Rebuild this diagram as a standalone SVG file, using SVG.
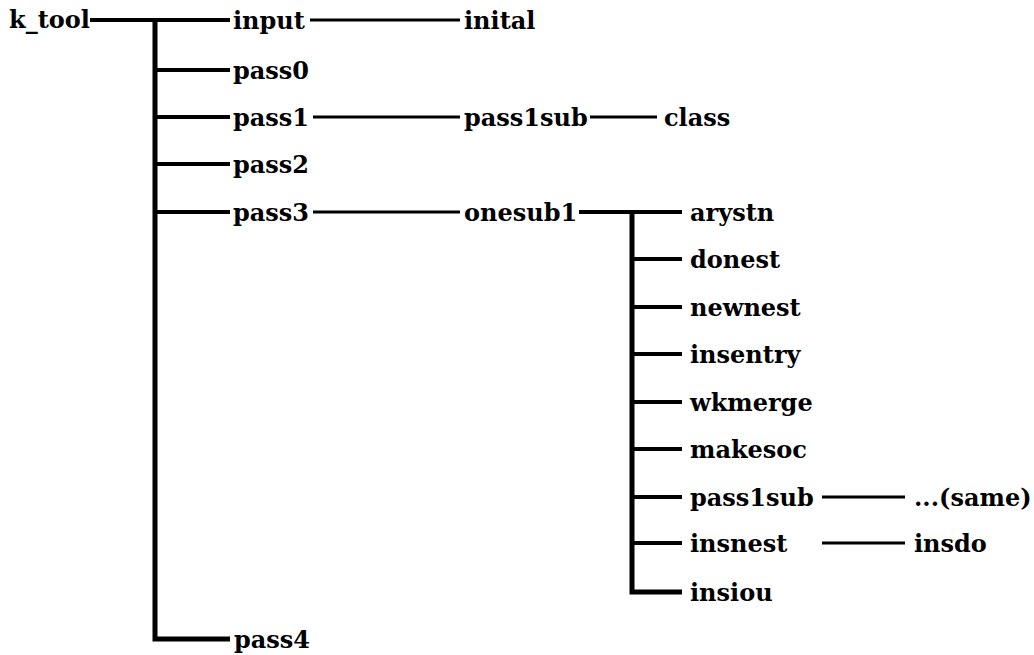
<svg xmlns="http://www.w3.org/2000/svg" width="1034" height="655" viewBox="0 0 1034 655">
<style>
text{font-family:"DejaVu Serif","Liberation Serif",serif;font-weight:bold;font-size:24px;fill:#000}
.trunk{stroke:#000;stroke-width:5;fill:none}
.br{stroke:#000;stroke-width:4;fill:none}
.ln{stroke:#000;stroke-width:3;fill:none}
</style>
<rect width="1034" height="655" fill="#fff"/>
<g id="connectors">
<path class="trunk" d="M155 20 V639 H230"/>
<path class="br" d="M90 20 H155"/>
<path class="br" d="M155 20 H230 M155 70 H230 M155 117 H230 M155 164 H230 M155 212 H230"/>
<path class="ln" d="M310 20 H460 M313 117 H460 M313 212 H460 M590 117 H657"/>
<path class="trunk" d="M632 212 V592 H682"/>
<path class="br" d="M579 212 H682 M632 259 H682 M632 307 H682 M632 354 H682 M632 402 H682 M632 449 H682 M632 497 H682 M632 543 H682"/>
<path class="ln" d="M822 497 H905 M822 543 H905"/>
</g>
<g id="k_tool"><text x="9" y="28">k_tool</text></g>
<g id="input"><text x="233" y="29">input</text></g>
<g id="inital"><text x="464" y="29">inital</text></g>
<g id="pass0"><text x="233" y="79">pass0</text></g>
<g id="pass1"><text x="233" y="126">pass1</text></g>
<g id="pass1sub"><text x="464" y="126">pass1sub</text></g>
<g id="class"><text x="664" y="126">class</text></g>
<g id="pass2"><text x="233" y="173">pass2</text></g>
<g id="pass3"><text x="233" y="221">pass3</text></g>
<g id="onesub1"><text x="464" y="221">onesub1</text></g>
<g id="pass4"><text x="234" y="648">pass4</text></g>
<g id="arystn"><text x="690" y="221">arystn</text></g>
<g id="donest"><text x="690" y="268">donest</text></g>
<g id="newnest"><text x="690" y="316">newnest</text></g>
<g id="insentry"><text x="690" y="363">insentry</text></g>
<g id="wkmerge"><text x="690" y="411">wkmerge</text></g>
<g id="makesoc"><text x="690" y="458">makesoc</text></g>
<g id="pass1sub2"><text x="690" y="506">pass1sub</text></g>
<g id="same"><text x="914" y="506">...(same)</text></g>
<g id="insnest"><text x="690" y="552">insnest</text></g>
<g id="insdo"><text x="914" y="552">insdo</text></g>
<g id="insiou"><text x="690" y="601">insiou</text></g>
</svg>
